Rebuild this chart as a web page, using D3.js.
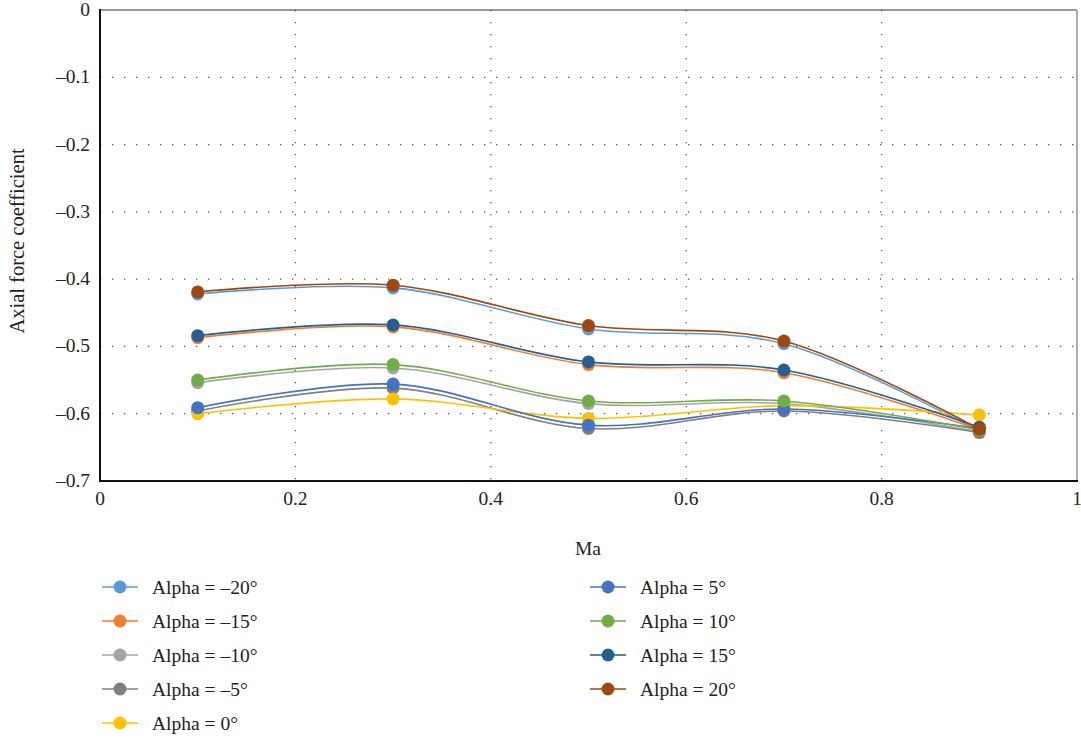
<!DOCTYPE html>
<html lang="en">
<head>
  <meta charset="UTF-8">
  <title>Axial force coefficient vs Ma</title>
  <script src="https://d3js.org/d3.v7.min.js"></script>
  <style>
    body { margin: 0; background: #fff; }
    svg { font-family: "Liberation Serif", "DejaVu Serif", serif; }
    .grid line { stroke: #555; stroke-width: 1.3; stroke-dasharray: 1.3 10.7; }
    .tick-label { font-size: 19.5px; fill: #222; }
    .legend text { font-size: 19.5px; fill: #222; }
  </style>
</head>
<body>
  <svg id="chart"></svg>
  <script>
    // data
    const machs = [0.1, 0.3, 0.5, 0.7, 0.9];
    const labels = ["Alpha = \u201320\u00b0", "Alpha = \u201315\u00b0", "Alpha = \u201310\u00b0", "Alpha = \u20135\u00b0",
      "Alpha = 0\u00b0", "Alpha = 5\u00b0", "Alpha = 10\u00b0", "Alpha = 15\u00b0", "Alpha = 20\u00b0"];
    const colors = ["#5B9BD5", "#ED7D31", "#A5A5A5", "#7F7F7F", "#FFC000", "#4472C4", "#70AD47", "#255E91", "#9E480E"];
    const values = [
      [-0.422, -0.413, -0.474, -0.496, -0.626],
      [-0.487, -0.471, -0.527, -0.539, -0.624],
      [-0.554, -0.532, -0.585, -0.585, -0.627],
      [-0.596, -0.562, -0.622, -0.596, -0.628],
      [-0.600, -0.578, -0.607, -0.588, -0.602],
      [-0.591, -0.556, -0.617, -0.593, -0.622],
      [-0.550, -0.527, -0.581, -0.581, -0.624],
      [-0.484, -0.468, -0.523, -0.535, -0.620],
      [-0.419, -0.409, -0.469, -0.492, -0.623]
    ];
    const xTicks = [0, 0.2, 0.4, 0.6, 0.8, 1];
    const yTicks = [0, -0.1, -0.2, -0.3, -0.4, -0.5, -0.6, -0.7];

    const width = 1081, height = 739;
    const svg = d3.select("#chart").attr("width", width).attr("height", height);

    const x = d3.scaleLinear().domain([0, 1]).range([100, 1077]);
    const y = d3.scaleLinear().domain([-0.7, 0]).range([481, 10]);

    const fmt = v => v === 0 ? "0" : (v < 0 ? "\u2013" : "") + d3.format(".1f")(Math.abs(v));

    // dotted grid
    const grid = svg.append("g").attr("class", "grid");
    grid.selectAll(".gy").data(yTicks.filter(v => v !== 0 && v !== -0.7)).enter().append("line")
      .attr("x1", x(0)).attr("x2", x(1)).attr("y1", d => y(d)).attr("y2", d => y(d));
    grid.selectAll(".gx").data(xTicks.filter(v => v !== 0 && v !== 1)).enter().append("line")
      .attr("y1", y(0)).attr("y2", y(-0.7)).attr("x1", d => x(d)).attr("x2", d => x(d));

    // frame
    svg.append("line").attr("x1", x(0)).attr("x2", x(1)).attr("y1", y(0)).attr("y2", y(0))
      .attr("stroke", "#333").attr("stroke-width", 1);
    svg.append("line").attr("x1", x(1)).attr("x2", x(1)).attr("y1", y(0)).attr("y2", y(-0.7))
      .attr("stroke", "#777").attr("stroke-width", 1.2);
    svg.append("line").attr("x1", x(0)).attr("x2", x(0)).attr("y1", y(0) - 1).attr("y2", y(-0.7) + 1)
      .attr("stroke", "#111").attr("stroke-width", 2);
    svg.append("line").attr("x1", x(0) - 1).attr("x2", x(1) + 1).attr("y1", y(-0.7)).attr("y2", y(-0.7))
      .attr("stroke", "#111").attr("stroke-width", 2);

    // tick labels
    svg.selectAll(".ylab").data(yTicks).enter().append("text")
      .attr("class", "tick-label").attr("text-anchor", "end")
      .attr("x", 90).attr("y", d => y(d) + 6).text(fmt);
    svg.selectAll(".xlab").data(xTicks).enter().append("text")
      .attr("class", "tick-label").attr("text-anchor", "middle")
      .attr("x", d => x(d)).attr("y", 505).text(d => d === 0 || d === 1 ? String(d) : d3.format(".1f")(d));

    // axis titles
    svg.append("text").attr("class", "tick-label").attr("text-anchor", "middle")
      .attr("x", 588).attr("y", 555).text("Ma");
    svg.append("text").attr("class", "tick-label").attr("text-anchor", "middle")
      .style("font-size", "20.5px")
      .attr("transform", "translate(24,241) rotate(-90)").text("Axial force coefficient");

    // series
    const line = d3.line().x((d, i) => x(machs[i])).y(d => y(d)).curve(d3.curveCardinal.tension(0));
    const series = svg.append("g");
    values.forEach((vals, s) => {
      const g = series.append("g");
      g.append("path").attr("d", line(vals)).attr("fill", "none")
        .attr("stroke", colors[s]).attr("stroke-width", 1.6);
      g.selectAll("circle").data(vals).enter().append("circle")
        .attr("cx", (d, i) => x(machs[i])).attr("cy", d => y(d)).attr("r", 6.5)
        .attr("fill", colors[s]);
    });

    // legend
    const legend = svg.append("g").attr("class", "legend");
    labels.forEach((lab, i) => {
      const col = i < 5 ? 0 : 1;
      const row = i < 5 ? i : i - 5;
      const lx = col === 0 ? 102 : 590;
      const ly = 587 + row * 34;
      const g = legend.append("g").attr("transform", `translate(${lx},${ly})`);
      g.append("line").attr("x1", 0).attr("x2", 36).attr("y1", 0).attr("y2", 0)
        .attr("stroke", colors[i]).attr("stroke-width", 1.6);
      g.append("circle").attr("cx", 18).attr("cy", 0).attr("r", 6.5).attr("fill", colors[i]);
      g.append("text").attr("x", 50).attr("y", 7).text(lab);
    });
  </script>
</body>
</html>
